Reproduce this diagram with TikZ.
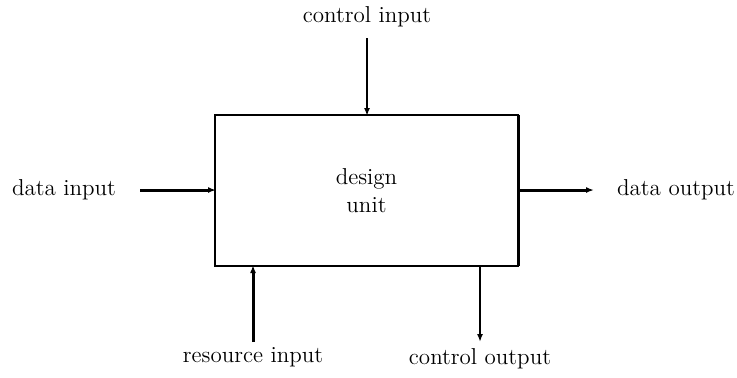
\documentclass[tikz,border=0pt]{standalone}
\usetikzlibrary{arrows.meta}
\begin{document}
\begin{tikzpicture}[x=0.5pt,y=-0.5pt,
		font=\fontsize{11.5}{14}\selectfont,
		unitbox/.style={draw,line width=1pt,minimum width=151.5pt,minimum height=75.5pt,align=center,inner sep=0pt,outer sep=0pt},
		thinflow/.style={line width=1pt,-{Latex[length=4pt,width=3pt]}},
		thickflow/.style={line width=1.5pt,-{Latex[length=4pt,width=3pt]}}]
		\useasboundingbox (0,0) rectangle (737,377);
		% the unit
		\node [unitbox] (unit) at (366.5,190.5) {design\\unit};
		\draw [line width=1.5pt] (unit.north east) -- (unit.south east);
		% labels
		\node (cin) at (367,17) {control input};
		\node (din) at (64,190) {data input};
		\node (dout) at (676,190) {data output};
		\node (rin) at (253,357) {resource input};
		\node (cout) at (480,359) {control output};
		% free ends
		\coordinate (cinend) at (367,38);
		\coordinate (dinend) at (140,190);
		\coordinate (doutend) at (594,190);
		\coordinate (rinend) at (253,342);
		\coordinate (coutend) at (480,342);
		% flows
		\draw [thinflow,shorten >=-0.5pt] (cinend) -- (unit.north -| cinend);
		\draw [thickflow,shorten >=-0.5pt] (dinend) -- (unit.west |- dinend);
		\draw [thickflow] (unit.east |- doutend) -- (doutend);
		\draw [thickflow,shorten >=-0.5pt] (rinend) -- (unit.south -| rinend);
		\draw [thinflow] (unit.south -| coutend) -- (coutend);
	\end{tikzpicture}
\end{document}
